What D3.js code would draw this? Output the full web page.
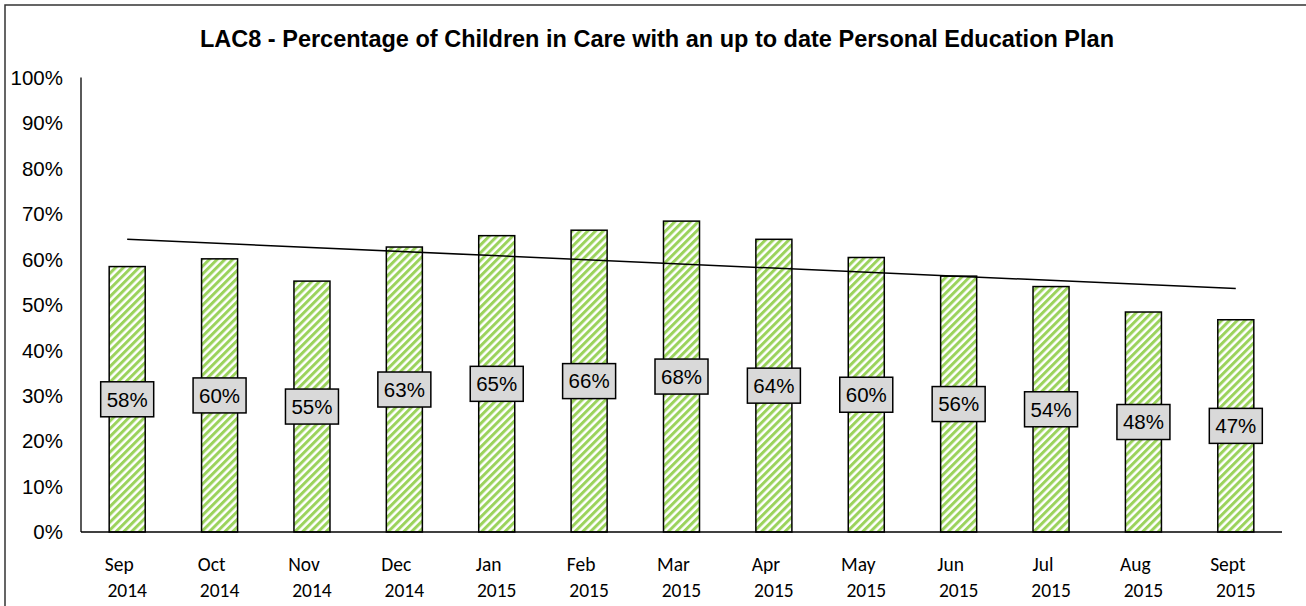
<!DOCTYPE html>
<html lang="en">
<head>
<meta charset="utf-8" />
<title>LAC8</title>
<style type="text/css">
    body{ margin:0; background:#fff; }
    .ytick{ font-family:"Liberation Sans", Arial, sans-serif; font-size:20.5px; fill:#000; }
    .xtick{ font-family:Carlito, Calibri, Lato, sans-serif; font-size:19.5px; fill:#000; }
    .lbl{ font-family:"Liberation Sans", Arial, sans-serif; font-size:20.5px; fill:#000; }
</style>
</head>
<body>
<script src="https://cdn.jsdelivr.net/npm/d3@7"></script>
<script>
    var months = ["Sep","Oct","Nov","Dec","Jan","Feb","Mar","Apr","May","Jun","Jul","Aug","Sept"];
    var years  = ["2014","2014","2014","2014","2015","2015","2015","2015","2015","2015","2015","2015","2015"];
    var values = [58.4, 60.1, 55.2, 62.7, 65.2, 66.4, 68.4, 64.4, 60.4, 56.3, 54.0, 48.4, 46.7];
    var yTicks = [0,10,20,30,40,50,60,70,80,90,100];
    var title = "LAC8 - Percentage of Children in Care with an up to date Personal Education Plan";

    var width = 1306, height = 606;
    var svg = d3.select("body").append("svg")
        .attr("width", width)
        .attr("height", height);

    // striped fill like Excel's wide upward diagonal
    var pat = svg.append("defs").append("pattern")
        .attr("id","stripes")
        .attr("patternUnits","userSpaceOnUse")
        .attr("width",5.5).attr("height",5.5)
        .attr("patternTransform","rotate(45)");
    pat.append("rect").attr("width",5.5).attr("height",5.5).attr("fill","#fff");
    pat.append("rect").attr("width",3).attr("height",5.5).attr("fill","#9bd35c");

    // outer frame
    svg.append("rect")
        .attr("x",5).attr("y",5)
        .attr("width",1320).attr("height",620)
        .attr("fill","none").attr("stroke","#333").attr("stroke-width",1.5);

    svg.append("text")
        .attr("x",657).attr("y",47)
        .attr("text-anchor","middle")
        .style("font-family","'Liberation Sans', Arial, sans-serif")
        .style("font-weight","bold")
        .style("font-size","23.5px")
        .text(title);

    var pLeft = 81, pRight = 1282, pTop = 77.5, pBottom = 532;

    var x = d3.scaleBand().domain(months).range([pLeft,pRight]).paddingInner(0.61).paddingOuter(0.305);
    var y = d3.scaleLinear().domain([0,100]).range([pBottom,pTop]);

    // y labels
    svg.append("g").selectAll("text")
        .data(yTicks).enter().append("text")
        .attr("class","ytick")
        .attr("x",63)
        .attr("y",function(d){ return y(d); })
        .attr("dy","0.36em")
        .attr("text-anchor","end")
        .text(function(d){ return d + "%"; });

    // bars
    svg.append("g").selectAll("rect")
        .data(values).enter().append("rect")
        .attr("x",function(d,i){ return x(months[i]); })
        .attr("y",function(d){ return y(d); })
        .attr("width",x.bandwidth())
        .attr("height",function(d){ return pBottom - y(d); })
        .attr("fill","url(#stripes)")
        .attr("stroke","#000")
        .attr("stroke-width",1.5);

    // axes lines
    svg.append("line").attr("x1",pLeft).attr("x2",pLeft).attr("y1",pTop).attr("y2",pBottom)
        .attr("stroke","#000").attr("stroke-width",1.3);
    svg.append("line").attr("x1",pLeft).attr("x2",pRight).attr("y1",pBottom).attr("y2",pBottom)
        .attr("stroke","#000").attr("stroke-width",1.3);

    // x labels (month line sits a little left of the year, as in the original)
    var xl = svg.append("g").selectAll("text")
        .data(months).enter().append("text")
        .attr("class","xtick")
        .attr("text-anchor","middle");
    xl.append("tspan")
        .attr("x",function(d){ return x(d) + x.bandwidth()/2 - 8; })
        .attr("y",571).text(function(d){ return d; });
    xl.append("tspan")
        .attr("x",function(d){ return x(d) + x.bandwidth()/2; })
        .attr("y",597).text(function(d,i){ return years[i]; });

    // linear trendline
    var n = values.length, mx = (n-1)/2, my = d3.mean(values);
    var sxy = d3.sum(values, function(d,i){ return (i-mx)*(d-my); });
    var sxx = d3.sum(values, function(d,i){ return (i-mx)*(i-mx); });
    var slope = sxy/sxx, icpt = my - slope*mx;
    var cx = function(i){ return x(months[i]) + x.bandwidth()/2; };
    svg.append("line")
        .attr("x1",cx(0)).attr("y1",y(icpt))
        .attr("x2",cx(n-1)).attr("y2",y(icpt + slope*(n-1)))
        .attr("stroke","#000").attr("stroke-width",1.5);

    // data labels
    var lg = svg.append("g").selectAll("g")
        .data(values).enter().append("g")
        .attr("transform",function(d,i){ return "translate(" + cx(i) + "," + y(d/2) + ")"; });
    lg.append("rect")
        .attr("x",-26.5).attr("y",-17.5)
        .attr("width",53).attr("height",35)
        .attr("fill","#d9d9d9").attr("stroke","#000").attr("stroke-width",1.5);
    lg.append("text")
        .attr("class","lbl")
        .attr("text-anchor","middle")
        .attr("dy","0.36em")
        .text(function(d){ return Math.round(d) + "%"; });
</script>
</body>
</html>
